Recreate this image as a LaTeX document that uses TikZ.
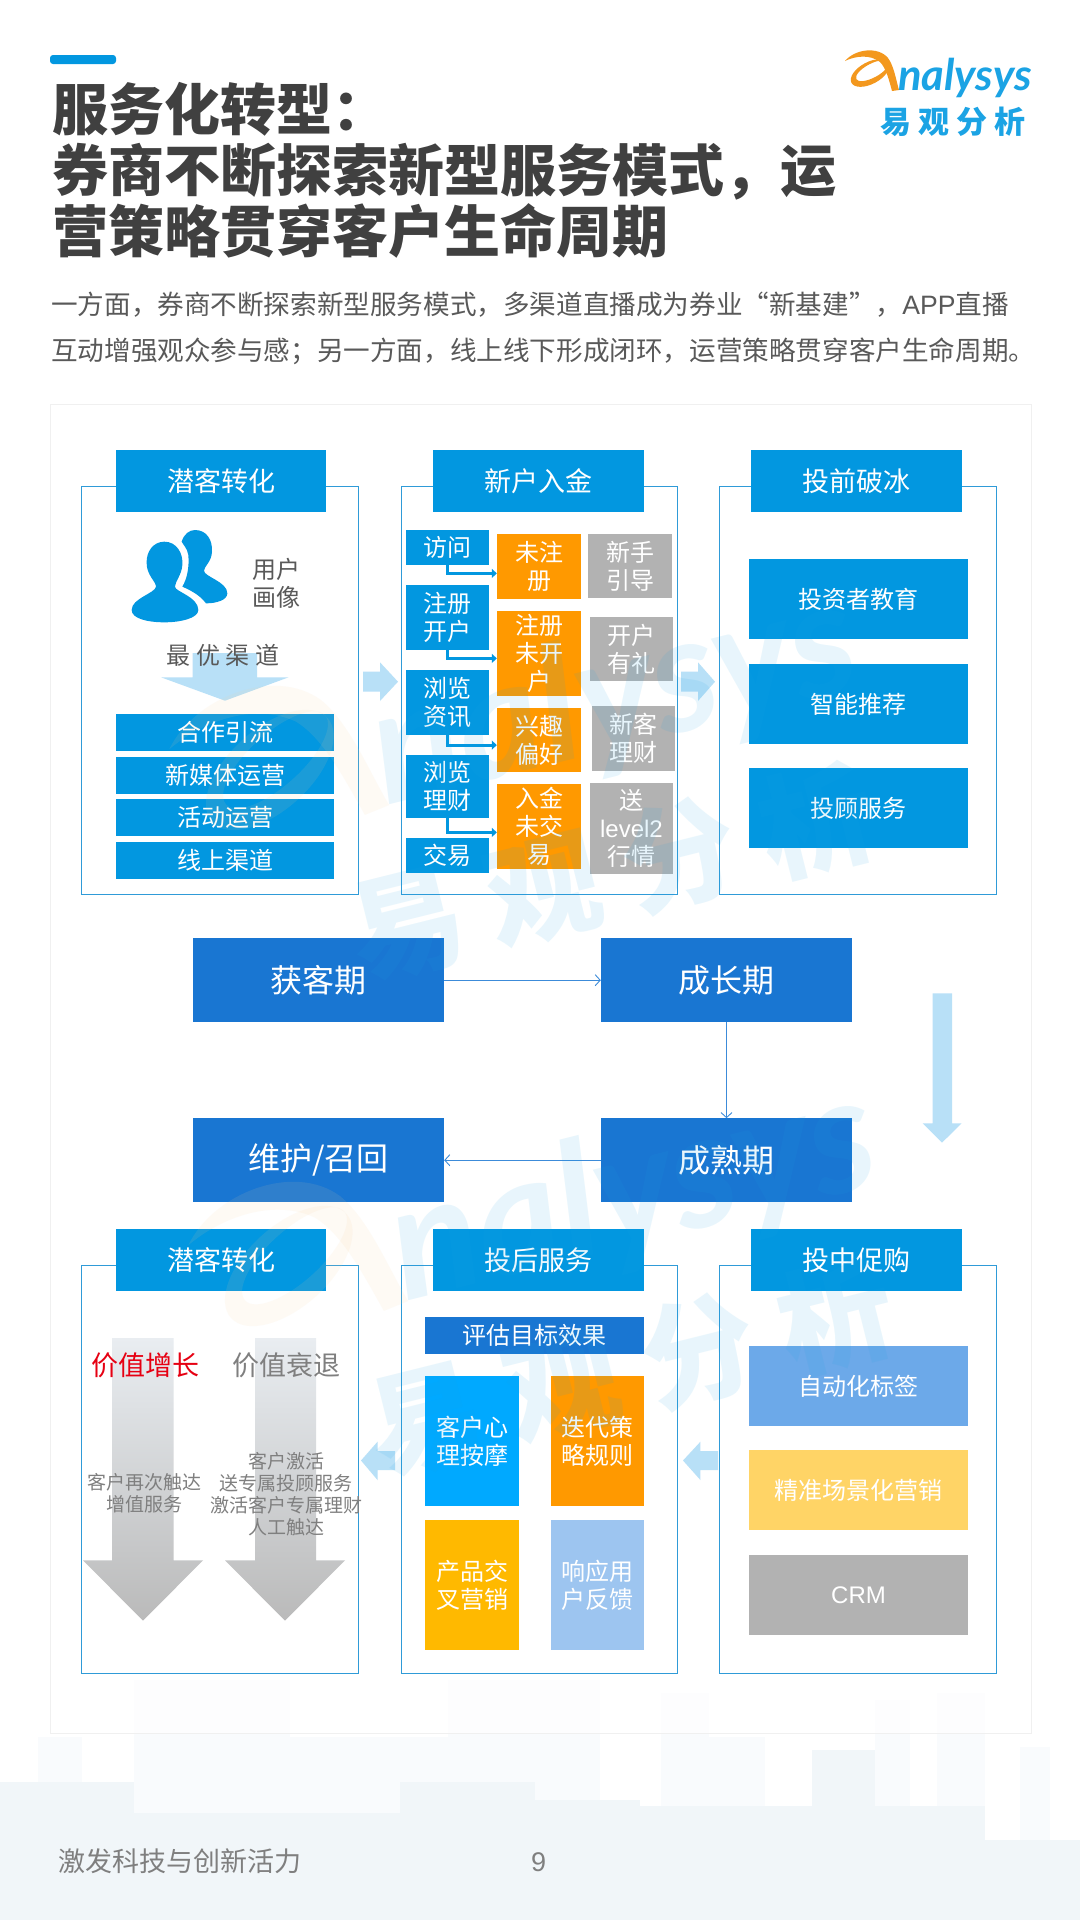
\documentclass[tikz,border=0pt]{standalone}
\usepackage{fontspec}
\setmainfont{Noto Sans CJK SC}
\newfontfamily\latfont{Liberation Sans}
\newfontfamily\logofont{Lato}
\definecolor{asblue}{RGB}{2,151,224}
\definecolor{asdeep}{RGB}{25,118,210}
\definecolor{asline}{RGB}{47,155,216}
\definecolor{aspale}{RGB}{184,224,247}
\definecolor{asorange}{RGB}{255,153,0}
\definecolor{asgray}{RGB}{178,178,178}
\definecolor{astitle}{RGB}{64,64,64}
\definecolor{astext}{RGB}{89,89,89}
\definecolor{asmute}{RGB}{127,127,127}
\definecolor{asfade}{RGB}{233,237,241}
\definecolor{asfadeb}{RGB}{186,186,186}
\definecolor{assky}{RGB}{241,246,249}
\definecolor{assky2}{RGB}{249,251,253}
\definecolor{aslogo}{RGB}{27,163,228}
\definecolor{asswoosh}{RGB}{243,152,30}
\usetikzlibrary{arrows.meta,positioning}
% the brand mark, drawn in page pixels
\newcommand{\brandmark}{%
  \fill[asswoosh] (845,61) .. controls (855,49) and (878,46) .. (888,58) .. controls (894,66) and (896,80) .. (899,90) -- (892,91) .. controls (889,80) and (886,68) .. (880,62) .. controls (870,54) and (855,56) .. (845,61) -- cycle;
  \fill[asswoosh,even odd rule,rotate around={28:(870,73)}] (870,73) ellipse (21 and 11) (873,72) ellipse (18 and 7);
  \node[anchor=base west,inner sep=0pt,transform shape,text=aslogo,font=\logofont\bfseries\itshape\fontsize{43.5}{44}\selectfont] (lgname) at (898,90) {nalysys};
  \node[inner sep=0pt,transform shape,text=aslogo,font=\bfseries\fontsize{31}{31}\selectfont] (lgcn) at (953,122) {易 观 分 析};
}
\begin{document}
\begin{tikzpicture}[x=1pt,y=-1pt,
  frame/.style={draw=asline,line width=1pt,inner sep=0pt,minimum width=276.5pt,minimum height=408pt},
  head/.style={fill=asblue,text=white,inner sep=0pt,font=\fontsize{27}{27}\selectfont,minimum width=210.5pt,minimum height=61.7pt},
  cell/.style={fill=asblue,text=white,inner sep=0pt,align=center,font=\fontsize{24}{28}\selectfont},
  stage/.style={fill=asdeep,text=white,inner sep=0pt,font=\fontsize{32}{32}\selectfont,minimum width=251pt,minimum height=83.7pt},
  bar/.style={cell,minimum width=218pt,minimum height=36.7pt},
  left/.style={cell,minimum width=83pt},
  mid/.style={cell,fill=asorange,minimum width=84pt},
  tail/.style={cell,fill=asgray,minimum width=83.5pt},
  wide/.style={cell,minimum width=219pt,minimum height=80pt},
  tile/.style={cell,minimum height=130pt},
  note/.style={inner sep=0pt,align=center,text=asmute,font=\fontsize{19}{22}\selectfont},
  thin/.style={draw=asdeep!85,line width=0.9pt,-{Straight Barb[length=5pt,width=11pt]}},
  elbow/.style={draw=asblue,line width=3pt,-{Triangle[length=5pt,width=9pt]}},
  fat/.style={fill=aspale}]
  % Page background: skyline
  \fill[assky2] (38,1737) rectangle (82,1920);
  \fill[assky2] (134,1680) rectangle (290,1920);
  \fill[assky2] (290,1737) rectangle (448,1920);
  \fill[assky2] (448,1680) rectangle (600,1920);
  \fill[assky2] (661,1693) rectangle (709,1920);
  \fill[assky2] (709,1737) rectangle (765,1920);
  \fill[assky2] (875,1700) rectangle (910,1920);
  \fill[assky2] (937,1693) rectangle (985,1920);
  \fill[assky2] (1020,1747) rectangle (1050,1920);
  \fill[assky] (0,1782) rectangle (134,1920);
  \fill[assky] (134,1813) rectangle (400,1920);
  \fill[assky] (400,1782) rectangle (535,1920);
  \fill[assky] (535,1800) rectangle (640,1920);
  \fill[assky] (640,1806) rectangle (812,1920);
  \fill[assky] (812,1750) rectangle (875,1920);
  \fill[assky] (875,1806) rectangle (985,1920);
  \fill[assky] (985,1840) rectangle (1080,1920);
  \node[draw=black!6,fill=white,fill opacity=.75,inner sep=0pt,minimum width=981pt,minimum height=1328.7pt] (sheet) at (540.5,1068.4) {};
  % Title block
  \fill[asblue,rounded corners=3pt] (50,55) rectangle (116,64);
  \node[anchor=west,inner sep=0pt,align=left,text=astitle,font=\bfseries\fontsize{56}{61}\selectfont] (title) at (52,170) {服务化转型：\\券商不断探索新型服务模式，运\\营策略贯穿客户生命周期};
  \node[anchor=west,inner sep=0pt,text=astext,font=\fontsize{26.6}{27}\selectfont] (introa) at (51,305) {一方面，券商不断探索新型服务模式，多渠道直播成为券业“新基建”，{\latfont APP}直播};
  \node[anchor=west,inner sep=0pt,text=astext,font=\fontsize{26.6}{27}\selectfont] (introb) at (51,351.7) {互动增强观众参与感；另一方面，线上线下形成闭环，运营策略贯穿客户生命周期。};
  \brandmark
  % Panel 1: 潜客转化
  \node[frame] (fa) at (220.2,690.5) {};
  \node[head] (ha) at (221,481.2) {潜客转化};
  \begin{scope}[shift={(100,510)},scale=1/3]
    \fill[asblue] (193,95) .. controls (230,95) and (250,130) .. (247,165) .. controls (245,195) and (225,215) .. (225,230) .. controls (225,245) and (295,260) .. (295,300) .. controls (295,325) and (240,337) .. (195,337) .. controls (140,337) and (95,325) .. (95,300) .. controls (95,265) and (165,250) .. (168,230) .. controls (168,215) and (140,195) .. (140,160) .. controls (138,125) and (160,95) .. (193,95) -- cycle;
    \fill[asblue] (285,60) .. controls (320,60) and (338,90) .. (336,125) .. controls (335,155) and (312,170) .. (312,182) .. controls (312,200) and (382,215) .. (382,250) .. controls (382,270) and (350,280) .. (318,280) .. controls (300,255) and (270,240) .. (247,230) .. controls (262,205) and (268,170) .. (265,135) .. controls (262,115) and (250,105) .. (245,95) .. controls (252,72) and (268,60) .. (285,60) -- cycle;
  \end{scope}
  \node[inner sep=0pt,align=center,text=astext,font=\fontsize{24}{28.4}\selectfont] (portrait) at (276,583.5) {用户\\画像};
  \fill[fat] (192.6,653) -- (257,653) -- (257,677.3) -- (288.6,677.3) -- (225,700.7) -- (161,677.3) -- (192.6,677.3) -- cycle;
  \node[inner sep=0pt,text=astext,font=\fontsize{24}{24}\selectfont] (best) at (223,655) {最 优 渠 道};
  \node[bar] (ca) at (225,732.7) {合作引流};
  \node[bar] (cb) at (225,775.7) {新媒体运营};
  \node[bar] (cc) at (225,817.7) {活动运营};
  \node[bar] (cd) at (225,860.7) {线上渠道};
  % Panel 2: 新户入金
  \node[frame] (fb) at (539.3,690.5) {};
  \node[head] (hb) at (538.5,481.2) {新户入金};
  \node[left,minimum height=34.7pt] (va) at (447.5,547.7) {访问};
  \node[left,minimum height=64.7pt] (vb) at (447.5,617.7) {注册\\开户};
  \node[left,minimum height=64.7pt] (vc) at (447.5,702.7) {浏览\\资讯};
  \node[left,minimum height=62.7pt] (vd) at (447.5,786.7) {浏览\\理财};
  \node[left,minimum height=34.7pt] (ve) at (447.5,855.7) {交易};
  \node[mid,minimum height=64.7pt] (oa) at (539,566.7) {未注\\册};
  \node[mid,minimum height=84.7pt] (ob) at (539,653.7) {注册\\未开\\户};
  \node[mid,minimum height=63.7pt] (oc) at (539,740.2) {兴趣\\偏好};
  \node[mid,minimum height=84.7pt] (od) at (539,826.7) {入金\\未交\\易};
  \node[tail,minimum height=63.7pt] (ga) at (630,566.2) {新手\\引导};
  \node[tail,minimum height=64pt] (gb) at (631.5,649) {开户\\有礼};
  \node[tail,minimum height=64.7pt] (gc) at (633.5,738.7) {新客\\理财};
  \node[tail,minimum height=91pt] (gd) at (631.5,828.8) {送\\{\latfont level2}\\行情};
  \draw[elbow] (va.south) |- ([yshift=-6.7pt]oa.west);
  \draw[elbow] (vb.south) |- ([yshift=-4.7pt]ob.west);
  \draw[elbow] (vc.south) |- ([yshift=-4.9pt]oc.west);
  \draw[elbow] (vd.south) |- ([yshift=-5.7pt]od.west);
  % Panel 3: 投前破冰
  \node[frame] (fc) at (858.2,690.5) {};
  \node[head] (hc) at (856.5,481.2) {投前破冰};
  \node[wide] (ea) at (858.5,599.2) {投资者教育};
  \node[wide] (eb) at (858.5,704.2) {智能推荐};
  \node[wide] (ec) at (858.5,808.2) {投顾服务};
  \fill[fat] (363,671.7) -- (380,671.7) -- (380,662.3) -- (398,681.7) -- (380,701) -- (380,691.7) -- (363,691.7) -- cycle;
  \fill[fat] (681,671.7) -- (698,671.7) -- (698,662.3) -- (715,681.7) -- (698,701) -- (698,691.7) -- (681,691.7) -- cycle;
  % Life cycle stages
  \node[stage] (sa) at (318.5,980.2) {获客期};
  \node[stage] (sb) at (726.5,980.2) {成长期};
  \node[stage] (sc) at (726.5,1160.2) {成熟期};
  \node[stage] (sd) at (318.5,1160.2) {维护/召回};
  \draw[thin] (sa) -- (sb);
  \draw[thin] (sb) -- (sc);
  \draw[thin] (sc) -- (sd);
  \fill[fat] (932.5,993.3) -- (952,993.3) -- (952,1123.3) -- (961.5,1123.3) -- (942,1142.7) -- (922.6,1123.3) -- (932.5,1123.3) -- cycle;
  % Panel 6: 潜客转化
  \node[frame] (ff) at (220.2,1469.5) {};
  \node[head] (hf) at (221,1260.2) {潜客转化};
  \shade[top color=asfade,bottom color=asfadeb] (112,1338) -- (173.5,1338) -- (173.5,1560.3) -- (203,1560.3) -- (143,1620.7) -- (83,1560.3) -- (112,1560.3) -- cycle;
  \shade[top color=asfade,bottom color=asfadeb] (255,1338) -- (316,1338) -- (316,1560.3) -- (345,1560.3) -- (285,1620.7) -- (225,1560.3) -- (255,1560.3) -- cycle;
  \node[inner sep=0pt,text={rgb,255:red,230;green,0;blue,18},font=\fontsize{27}{27}\selectfont] (up) at (145,1365) {价值增长};
  \node[inner sep=0pt,text=asmute,font=\fontsize{27}{27}\selectfont] (down) at (286,1365) {价值衰退};
  \node[note] (noteup) at (144.5,1493) {客户再次触达\\增值服务};
  \node[note] (notedown) at (286,1493.7) {客户激活\\送专属投顾服务\\激活客户专属理财\\人工触达};
  % Panel 5: 投后服务
  \node[frame] (fe) at (539.3,1469.5) {};
  \node[head] (he) at (538.5,1260.2) {投后服务};
  \node[cell,fill=asdeep,minimum width=219pt,minimum height=36.7pt] (goal) at (534.5,1335.7) {评估目标效果};
  \node[tile,fill={rgb,255:red,0;green,169;blue,255},minimum width=94pt] (ta) at (472,1441) {客户心\\理按摩};
  \node[tile,fill=asorange,minimum width=93pt] (tb) at (597.5,1441) {迭代策\\略规则};
  \node[tile,fill={rgb,255:red,255;green,185;blue,0},minimum width=94pt] (tc) at (472,1585.3) {产品交\\叉营销};
  \node[tile,fill={rgb,255:red,157;green,197;blue,240},minimum width=93pt] (td) at (597.5,1585.3) {响应用\\户反馈};
  % Panel 4: 投中促购
  \node[frame] (fd) at (858.2,1469.5) {};
  \node[head] (hd) at (856.5,1260.2) {投中促购};
  \node[wide,fill={rgb,255:red,108;green,169;blue,233}] (ma) at (858.5,1386.2) {自动化标签};
  \node[wide,fill={rgb,255:red,255;green,212;blue,102}] (mb) at (858.5,1490.2) {精准场景化营销};
  \node[wide,fill=asgray] (mc) at (858.5,1595.2) {\latfont CRM};
  \fill[fat] (395,1451) -- (377.5,1451) -- (377.5,1441.7) -- (361,1460.5) -- (377.5,1480) -- (377.5,1470) -- (395,1470) -- cycle;
  \fill[fat] (718,1451) -- (700.4,1451) -- (700.4,1441.7) -- (683,1460.5) -- (700.4,1480) -- (700.4,1470) -- (718,1470) -- cycle;
  % Footer
  \node[anchor=west,inner sep=0pt,text=asmute,font=\fontsize{27}{27}\selectfont] (foot) at (58.5,1861.7) {激发科技与创新活力};
  \node[inner sep=0pt,text=asmute,font=\latfont\fontsize{27}{27}\selectfont] (page) at (538.6,1861.7) {9};
  % Watermarks, laid over the panels
  \colorlet{asswoosh}{asswoosh!45}
  \begin{scope}[opacity=.1,shift={(530,789)},rotate=14,scale=3.7,shift={(-937,-95)}]
    \brandmark
  \end{scope}
  \begin{scope}[opacity=.1,shift={(549,1285)},rotate=14,scale=3.7,shift={(-937,-95)}]
    \brandmark
  \end{scope}
  \useasboundingbox (0,0) rectangle (1080,1920);
\end{tikzpicture}
\end{document}
